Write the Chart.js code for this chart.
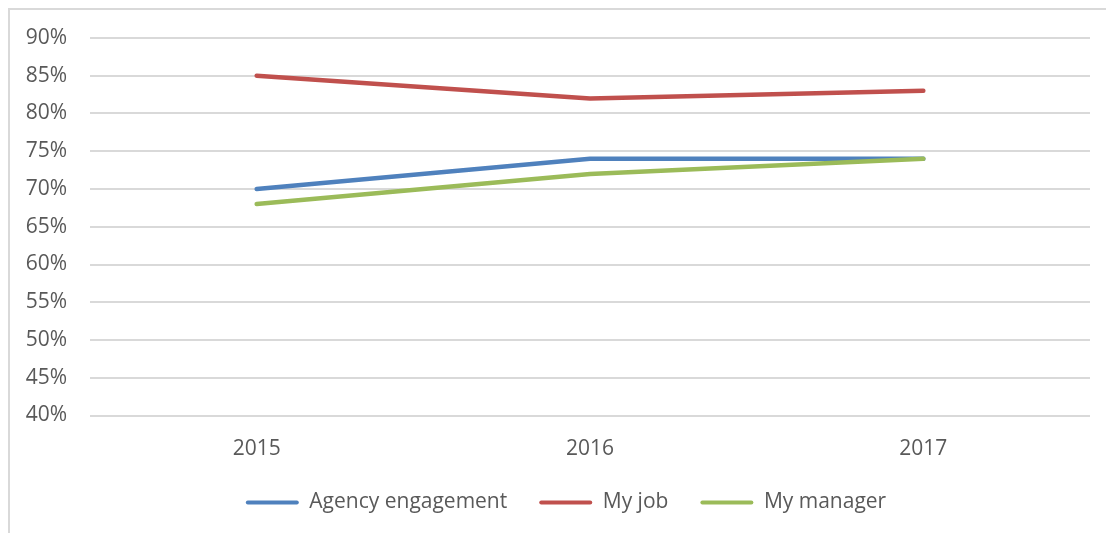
<!DOCTYPE html>
<html>
<head>
<meta charset="utf-8">
<script src="https://cdn.jsdelivr.net/npm/chart.js@4/dist/chart.umd.min.js"></script>
<style>
  html, body { margin: 0; padding: 0; background: #fff; }
  #frame { position: absolute; left: 8px; top: 8px; width: 1200px; height: 600px;
           border-left: 2px solid #d9d9d9; border-top: 2px solid #d9d9d9; }
  #wrap { position: absolute; left: 0; top: 0; width: 1106px; height: 533px; }
</style>
</head>
<body>
<div id="frame"></div>
<div id="wrap"><canvas id="grafico"></canvas></div>
<script>
// dados
const anos = ["2015", "2016", "2017"];
const agencyEngagement = [70, 74, 74];
const myJob = [85, 82, 83];
const myManager = [68, 72, 74];
const yTicks = [40, 45, 50, 55, 60, 65, 70, 75, 80, 85, 90];

const corTexto = "#595959";
const fonte = { family: "'Open Sans', sans-serif", size: 21 };

function serie(label, dados, cor, ordem) {
    return {
        label: label,
        data: dados,
        borderColor: cor,
        backgroundColor: cor,
        borderWidth: 4.5,
        borderCapStyle: "round",
        borderJoinStyle: "round",
        pointRadius: 0,
        pointHoverRadius: 0,
        tension: 0,
        order: ordem
    };
}

// empurra a legenda um pouco para a direita, como no original
const deslocaLegenda = {
    id: "deslocaLegenda",
    afterLayout(chart) {
        if (!chart.legend) return;
        chart.legend.left += 21;
        chart.legend.right += 21;
    }
};

new Chart(document.getElementById("grafico"), {
    type: "line",
    data: {
        labels: anos,
        datasets: [
            serie("Agency engagement", agencyEngagement, "#4f81bd", 3),
            serie("My job", myJob, "#c0504d", 2),
            serie("My manager", myManager, "#9bbb59", 1)
        ]
    },
    plugins: [deslocaLegenda],
    options: {
        responsive: true,
        maintainAspectRatio: false,
        animation: false,
        layout: { padding: { left: 0, right: 16, top: 38, bottom: 10 } },
        plugins: {
            legend: {
                position: "bottom",
                labels: {
                    color: corTexto,
                    font: fonte,
                    boxWidth: 53,
                    boxHeight: 4,
                    padding: 32,
                    useBorderRadius: true,
                    borderRadius: 2,
                    sort: (a, b) => a.datasetIndex - b.datasetIndex,
                    generateLabels: (chart) => chart.data.datasets.map((ds, i) => ({
                        text: ds.label,
                        fillStyle: ds.borderColor,
                        strokeStyle: ds.borderColor,
                        lineWidth: 0,
                        fontColor: corTexto,
                        datasetIndex: i,
                        borderRadius: 2
                    }))
                }
            },
            tooltip: { enabled: false }
        },
        scales: {
            x: {
                offset: true,
                afterFit: (s) => { s.height = 44.5; },
                grid: { display: false, drawTicks: false },
                border: { display: false },
                ticks: { color: corTexto, font: fonte, padding: 21 }
            },
            y: {
                min: 40,
                max: 90,
                afterFit: (s) => { s.width = 90; },
                afterBuildTicks: (s) => { s.ticks = yTicks.map(v => ({ value: v })); },
                grid: { color: "#d9d9d9", lineWidth: 2, drawTicks: false },
                border: { display: false },
                ticks: {
                    color: corTexto,
                    font: fonte,
                    padding: 23,
                    callback: (v) => v + "%"
                }
            }
        }
    }
});
</script>
</body>
</html>
